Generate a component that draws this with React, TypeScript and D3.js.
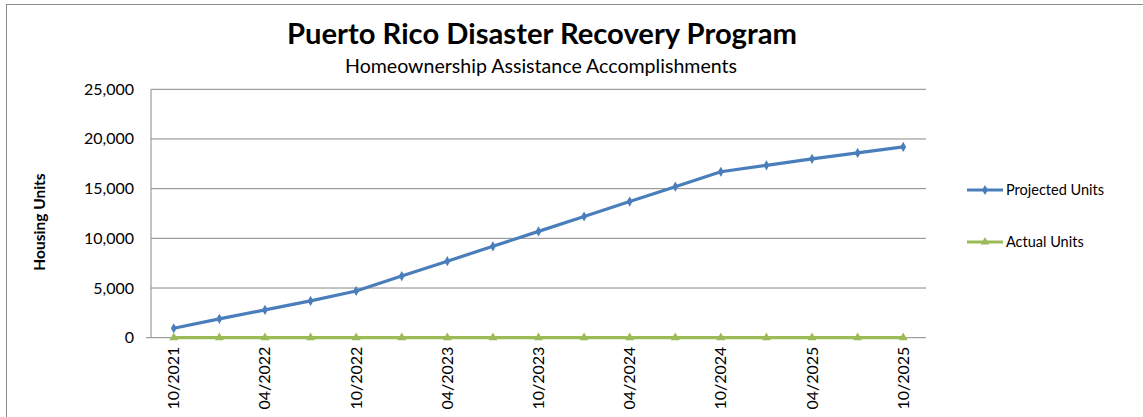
import React from "react";
import * as d3 from "d3";

const categories = [
  "10/2021", "01/2022", "04/2022", "07/2022", "10/2022", "01/2023", "04/2023", "07/2023",
  "10/2023", "01/2024", "04/2024", "07/2024", "10/2024", "01/2025", "04/2025", "07/2025", "10/2025",
];
const projectedUnits = [950, 1900, 2800, 3700, 4700, 6200, 7700, 9200, 10700, 12200, 13700, 15200, 16700, 17350, 18000, 18600, 19200];
const actualUnits = [0, 0, 0, 0, 0, 0, 0, 0, 0, 0, 0, 0, 0, 0, 0, 0, 0];
const yTicks = [0, 5000, 10000, 15000, 20000, 25000];
const seriesNames = ["Projected Units", "Actual Units"];

const W = 1143;
const H = 417;
const FONT = "Lato, 'Open Sans', sans-serif";

export default function App() {
  const left = 151, right = 926, top = 89.3, bottom = 337.7;
  const x = d3.scaleBand<string>().domain(categories).range([left, right]);
  const y = d3.scaleLinear().domain([0, 25000]).range([bottom, top]);
  const cx = (c: string) => (x(c) as number) + x.bandwidth() / 2;
  const fmt = d3.format(",");

  const line = d3.line<number>().x((_, i) => cx(categories[i])).y((v) => y(v));
  const diamond = d3.symbol().type(d3.symbolDiamond).size(30)() as string;
  const triangle = d3.symbol().type(d3.symbolTriangle).size(34)() as string;

  const blue = "#4A7EBB";
  const green = "#9BBB59";

  const series = [
    { name: seriesNames[0], values: projectedUnits, color: blue, marker: diamond },
    { name: seriesNames[1], values: actualUnits, color: green, marker: triangle },
  ];

  return (
    <svg width={W} height={H} style={{ position: "absolute", left: 0, top: 0, background: "#fff" }} fontFamily={FONT}>
      <rect x={6.5} y={4.5} width={W} height={H} fill="#fff" stroke="#8c8c8c" strokeWidth={1} />
      <text x={542} y={44} textAnchor="middle" fontSize={28} fontWeight="bold" fill="#000" textLength={510} lengthAdjust="spacingAndGlyphs">
        Puerto Rico Disaster Recovery Program
      </text>
      <text x={541} y={73} textAnchor="middle" fontSize={18.5} fill="#000" textLength={392} lengthAdjust="spacingAndGlyphs">
        Homeownership Assistance Accomplishments
      </text>

      {yTicks.map((t) => (
        <g key={t}>
          {t > 0 && <line x1={left} x2={right} y1={y(t)} y2={y(t)} stroke="#888" strokeWidth={1} />}
          <text x={134} y={y(t) + 5.5} textAnchor="end" fontSize={16} fill="#000">
            {fmt(t)}
          </text>
        </g>
      ))}
      <line x1={left} x2={left} y1={top} y2={bottom} stroke="#888" strokeWidth={1} />
      <line x1={left - 5} x2={right} y1={bottom} y2={bottom} stroke="#888" strokeWidth={1} />

      <text
        transform={`translate(45,${222}) rotate(-90)`}
        textAnchor="middle"
        fontSize={15.5}
        fontWeight="bold"
        fill="#000"
      >
        Housing Units
      </text>

      {categories.map((c, i) =>
        i % 2 === 0 ? (
          <text
            key={c}
            transform={`translate(${cx(c) + 5.5},${bottom + 9}) rotate(-90)`}
            textAnchor="end"
            fontSize={16}
            fill="#000"
          >
            {c}
          </text>
        ) : null
      )}

      {series.map((s) => (
        <g key={s.name}>
          <path d={line(s.values) as string} fill="none" stroke={s.color} strokeWidth={3.2} strokeLinejoin="round" />
          {s.values.map((v, i) => (
            <path key={i} d={s.marker} transform={`translate(${cx(categories[i])},${y(v)})`} fill={s.color} />
          ))}
        </g>
      ))}

      {series.map((s, i) => {
        const ly = 190 + i * 52;
        return (
          <g key={s.name}>
            <line x1={967} x2={1003} y1={ly} y2={ly} stroke={s.color} strokeWidth={3.2} />
            <path d={s.marker} transform={`translate(985,${ly})`} fill={s.color} />
            <text x={1006} y={ly + 5} fontSize={14.5} fill="#000">
              {s.name}
            </text>
          </g>
        );
      })}
    </svg>
  );
}
